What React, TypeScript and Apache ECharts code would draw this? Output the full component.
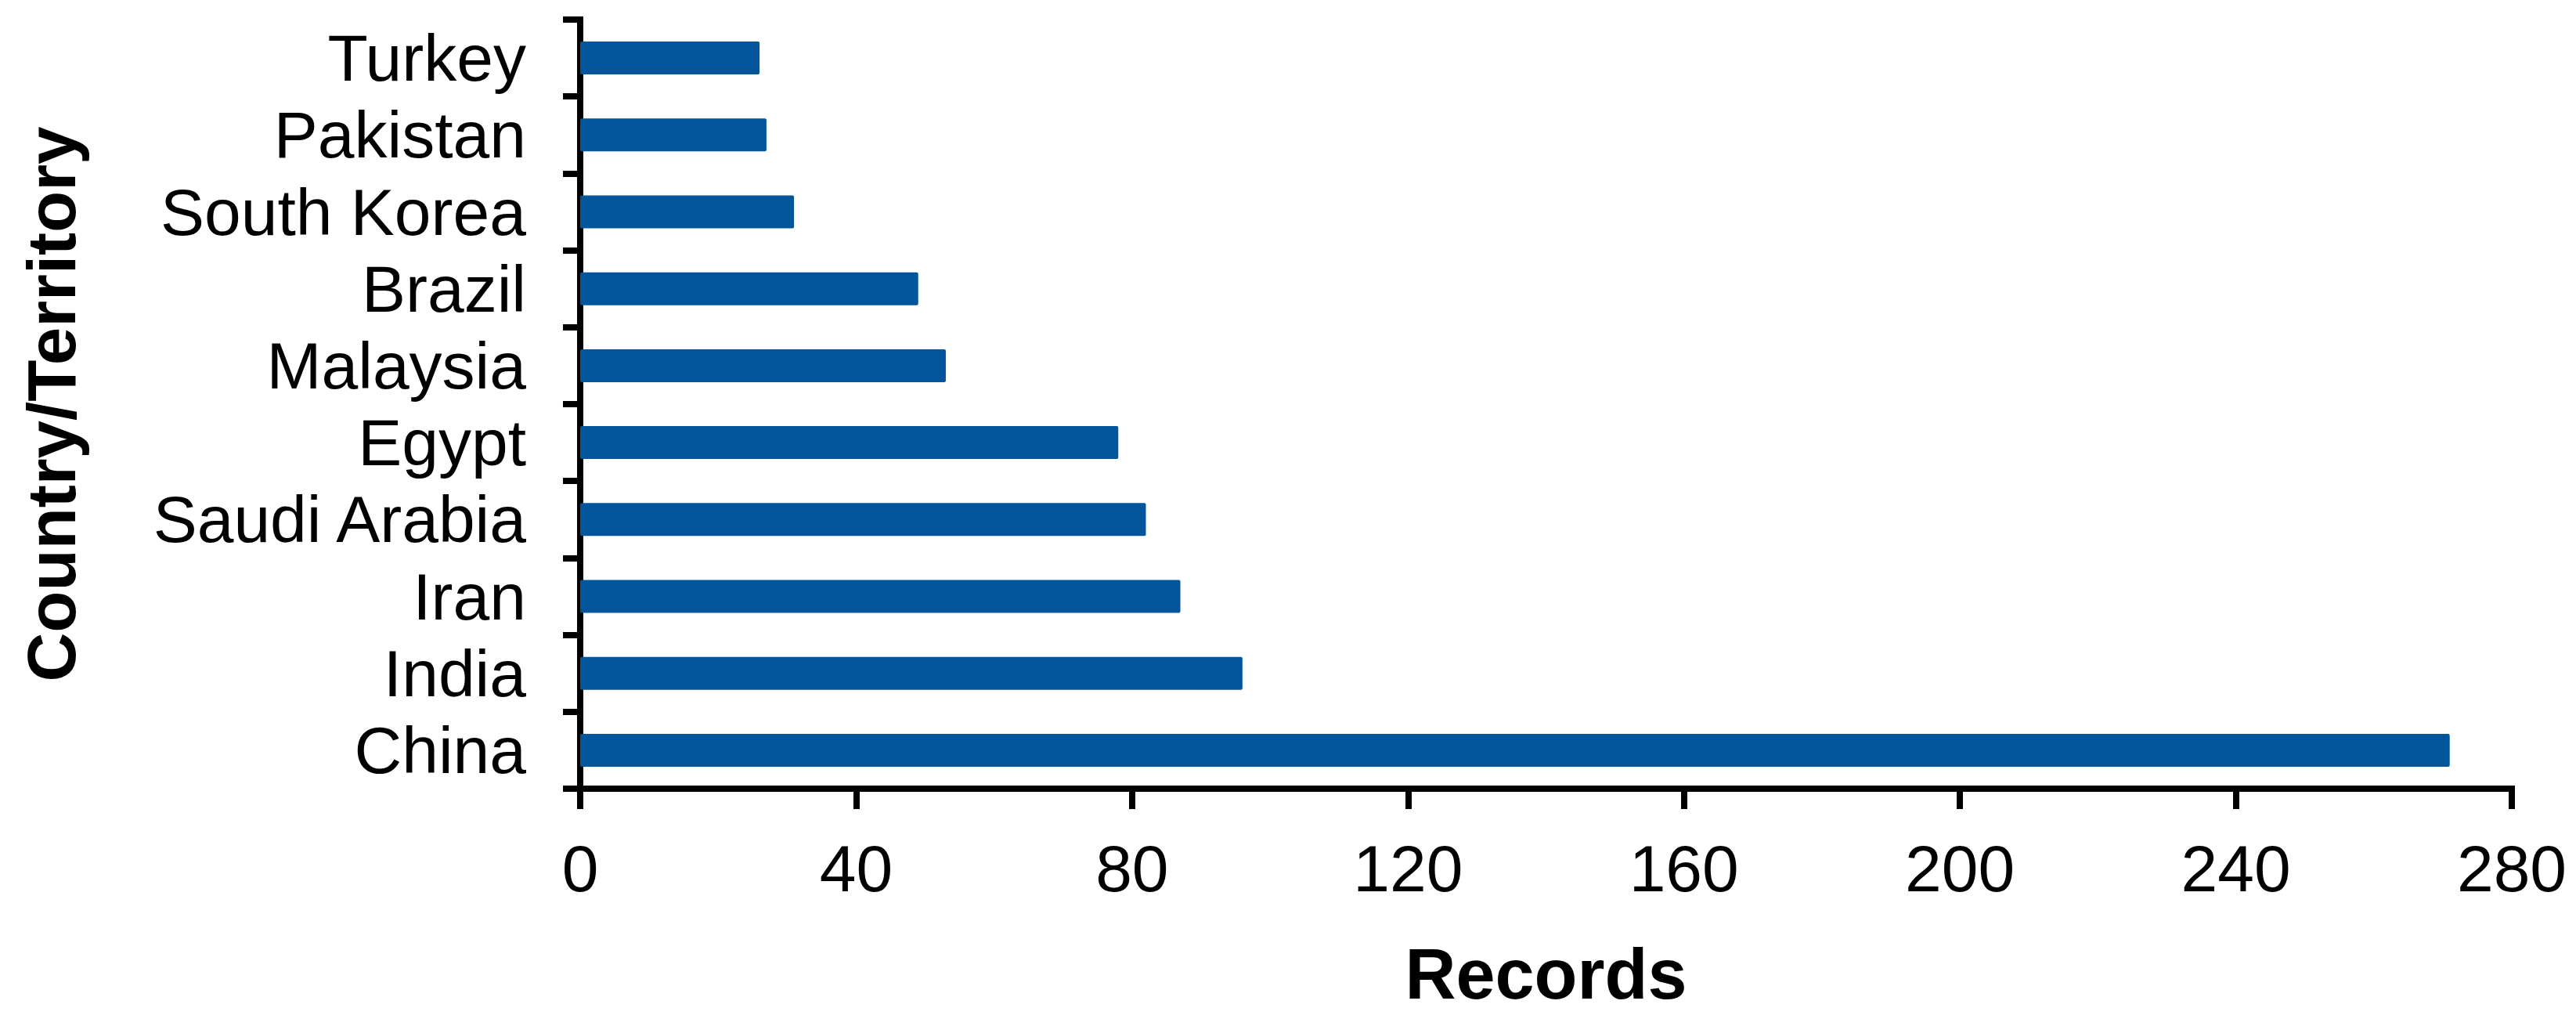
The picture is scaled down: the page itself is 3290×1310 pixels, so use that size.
import React, { useEffect, useRef } from "react";
import * as echarts from "echarts";

const categories = ["China", "India", "Iran", "Saudi Arabia", "Egypt", "Malaysia", "Brazil", "South Korea", "Pakistan", "Turkey"];
const records = [271, 96, 87, 82, 78, 53, 49, 31, 27, 26];
const xTicks = { min: 0, max: 280, interval: 40 };

const FONT = "Arial, 'Liberation Sans', sans-serif";

export default function App() {
  const ref = useRef<HTMLDivElement>(null);
  useEffect(() => {
    if (!ref.current) return;
    const chart = echarts.init(ref.current, undefined, { renderer: "svg" });
    chart.setOption({
      animation: false,
      backgroundColor: "#ffffff",
      grid: { left: 741, right: 82, top: 25, bottom: 303, containLabel: false },
      xAxis: {
        type: "value",
        min: xTicks.min,
        max: xTicks.max,
        interval: xTicks.interval,
        name: "Records",
        nameLocation: "middle",
        nameGap: 192,
        nameTextStyle: { fontFamily: FONT, fontSize: 90, fontWeight: "bold", color: "#000" },
        axisLine: { show: true, lineStyle: { color: "#000", width: 8, cap: "square" } },
        axisTick: { show: true, length: 26, lineStyle: { color: "#000", width: 8 } },
        axisLabel: { fontFamily: FONT, fontSize: 84, color: "#000", margin: 60 },
        splitLine: { show: false },
      },
      yAxis: {
        type: "category",
        data: categories,
        name: "Country/Territory",
        nameLocation: "middle",
        nameRotate: 90,
        nameGap: 632,
        nameTextStyle: { fontFamily: FONT, fontSize: 87, fontWeight: "bold", color: "#000" },
        axisLine: { show: true, lineStyle: { color: "#000", width: 8, cap: "square" } },
        axisTick: { show: true, interval: 0, length: 22, lineStyle: { color: "#000", width: 8 } },
        axisLabel: { interval: 0, fontFamily: FONT, fontSize: 84, color: "#000", margin: 69 },
        splitLine: { show: false },
      },
      series: [
        {
          type: "bar",
          data: records,
          barWidth: 42,
          itemStyle: { color: "#02559b", borderRadius: 2 },
        },
      ],
    });
    return () => chart.dispose();
  }, []);
  return <div ref={ref} style={{ position: "fixed", left: 0, top: 0, width: 3290, height: 1310 }} />;
}
